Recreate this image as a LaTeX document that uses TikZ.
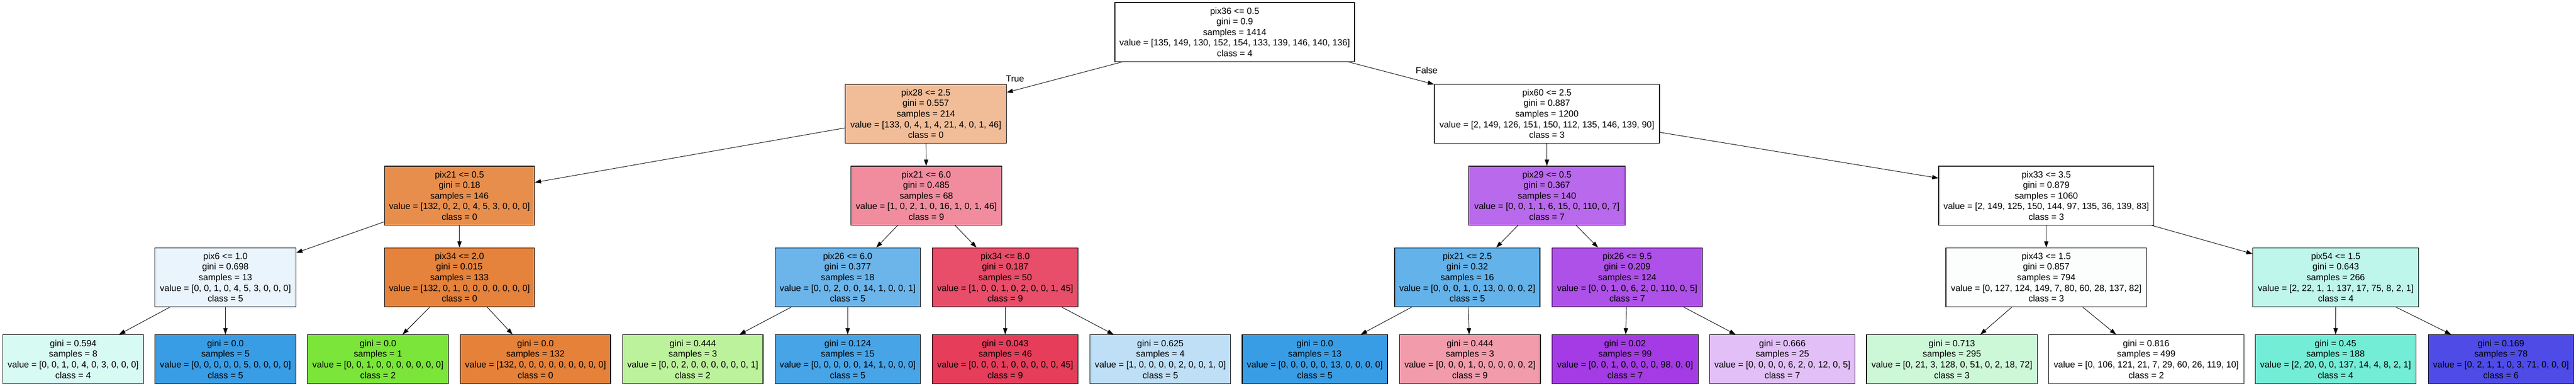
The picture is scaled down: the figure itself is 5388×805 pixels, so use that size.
\documentclass[tikz,border=0pt]{standalone}
\usepackage{fontspec}
\setmainfont{Liberation Sans}
\usetikzlibrary{arrows.meta}

\definecolor{kOrange}{RGB}{229,129,57}
\definecolor{kGreen}{RGB}{123,229,57}
\definecolor{kMint}{RGB}{57,229,94}
\definecolor{kTeal}{RGB}{57,229,197}
\definecolor{kBlue}{RGB}{57,157,229}
\definecolor{kIndigo}{RGB}{60,57,229}
\definecolor{kViolet}{RGB}{163,57,229}
\definecolor{kRed}{RGB}{229,57,88}

\begin{document}
\begin{tikzpicture}[x=1pt,y=-1pt,
    dtnode/.style={draw,line width=1.3pt,align=center,inner sep=0pt,minimum height=123pt,font=\fontsize{18.7}{22.2}\selectfont},
    dtleaf/.style={dtnode,minimum height=102pt},
    edgelbl/.style={font=\fontsize{18.7}{22.2}\selectfont,inner sep=0pt},
    dtedge/.style={-{Triangle[length=13pt,width=9pt]},line width=1pt}]
    \useasboundingbox (0,0) rectangle (5388,805);

    % root
    \node[dtnode,fill=white,minimum width=501pt] (R) at (2582.5,67) {pix36 <= 0.5\\gini = 0.9\\samples = 1414\\value = [135, 149, 130, 152, 154, 133, 139, 146, 140, 136]\\class = 4};

    % level 1
    \node[dtnode,fill=kOrange!52!white,minimum width=337pt] (A1) at (1936.5,237.5) {pix28 <= 2.5\\gini = 0.557\\samples = 214\\value = [133, 0, 4, 1, 4, 21, 4, 0, 1, 46]\\class = 0};
    \node[dtnode,fill=white,minimum width=471pt] (A2) at (3235.5,237.5) {pix60 <= 2.5\\gini = 0.887\\samples = 1200\\value = [2, 149, 126, 151, 150, 112, 135, 146, 139, 90]\\class = 3};

    % level 2
    \node[dtnode,fill=kOrange!90!white,minimum width=314pt] (B1) at (961,408.5) {pix21 <= 0.5\\gini = 0.18\\samples = 146\\value = [132, 0, 2, 0, 4, 5, 3, 0, 0, 0]\\class = 0};
    \node[dtnode,fill=kRed!58!white,minimum width=315pt] (B2) at (1937.5,408.5) {pix21 <= 6.0\\gini = 0.485\\samples = 68\\value = [1, 0, 2, 1, 0, 16, 1, 0, 1, 46]\\class = 9};
    \node[dtnode,fill=kViolet!76!white,minimum width=327pt] (B3) at (3235.5,408.5) {pix29 <= 0.5\\gini = 0.367\\samples = 140\\value = [0, 0, 1, 1, 6, 15, 0, 110, 0, 7]\\class = 7};
    \node[dtnode,fill=white,minimum width=450pt] (B4) at (4280,408.5) {pix33 <= 3.5\\gini = 0.879\\samples = 1060\\value = [2, 149, 125, 150, 144, 97, 135, 36, 139, 83]\\class = 3};

    % level 3
    \node[dtnode,fill=kBlue!11!white,minimum width=295pt] (C1) at (471.5,579) {pix6 <= 1.0\\gini = 0.698\\samples = 13\\value = [0, 0, 1, 0, 4, 5, 3, 0, 0, 0]\\class = 5};
    \node[dtnode,fill=kOrange!99!white,minimum width=314pt] (C2) at (961,579) {pix34 <= 2.0\\gini = 0.015\\samples = 133\\value = [132, 0, 1, 0, 0, 0, 0, 0, 0, 0]\\class = 0};
    \node[dtnode,fill=kBlue!75!white,minimum width=304pt] (C3) at (1773,579) {pix26 <= 6.0\\gini = 0.377\\samples = 18\\value = [0, 0, 2, 0, 0, 14, 1, 0, 0, 1]\\class = 5};
    \node[dtnode,fill=kRed!90!white,minimum width=305pt] (C4) at (2102.5,579) {pix34 <= 8.0\\gini = 0.187\\samples = 50\\value = [1, 0, 0, 1, 0, 2, 0, 0, 1, 45]\\class = 9};
    \node[dtnode,fill=kBlue!79!white,minimum width=304pt] (C5) at (3069,579) {pix21 <= 2.5\\gini = 0.32\\samples = 16\\value = [0, 0, 0, 1, 0, 13, 0, 0, 0, 2]\\class = 5};
    \node[dtnode,fill=kViolet!88!white,minimum width=315pt] (C6) at (3403.5,579) {pix26 <= 9.5\\gini = 0.209\\samples = 124\\value = [0, 0, 1, 0, 6, 2, 0, 110, 0, 5]\\class = 7};
    \node[dtnode,fill=kMint!2!white,minimum width=420pt] (C7) at (4280,579) {pix43 <= 1.5\\gini = 0.857\\samples = 794\\value = [0, 127, 124, 149, 7, 80, 60, 28, 137, 82]\\class = 3};
    \node[dtnode,fill=kTeal!33!white,minimum width=347pt] (C8) at (4885.5,579) {pix54 <= 1.5\\gini = 0.643\\samples = 266\\value = [2, 22, 1, 1, 137, 17, 75, 8, 2, 1]\\class = 4};

    % leaves
    \node[dtleaf,fill=kTeal!20!white,minimum width=294pt] (D1) at (153,750) {gini = 0.594\\samples = 8\\value = [0, 0, 1, 0, 4, 0, 3, 0, 0, 0]\\class = 4};
    \node[dtleaf,fill=kBlue,minimum width=295pt] (D2) at (471.5,750) {gini = 0.0\\samples = 5\\value = [0, 0, 0, 0, 0, 5, 0, 0, 0, 0]\\class = 5};
    \node[dtleaf,fill=kGreen,minimum width=295pt] (D3) at (790.5,750) {gini = 0.0\\samples = 1\\value = [0, 0, 1, 0, 0, 0, 0, 0, 0, 0]\\class = 2};
    \node[dtleaf,fill=kOrange,minimum width=314pt] (D4) at (1120,750) {gini = 0.0\\samples = 132\\value = [132, 0, 0, 0, 0, 0, 0, 0, 0, 0]\\class = 0};
    \node[dtleaf,fill=kGreen!50!white,minimum width=294pt] (D5) at (1449,750) {gini = 0.444\\samples = 3\\value = [0, 0, 2, 0, 0, 0, 0, 0, 0, 1]\\class = 2};
    \node[dtleaf,fill=kBlue!93!white,minimum width=304pt] (D6) at (1773,750) {gini = 0.124\\samples = 15\\value = [0, 0, 0, 0, 0, 14, 1, 0, 0, 0]\\class = 5};
    \node[dtleaf,fill=kRed!98!white,minimum width=305pt] (D7) at (2102.5,750) {gini = 0.043\\samples = 46\\value = [0, 0, 0, 1, 0, 0, 0, 0, 0, 45]\\class = 9};
    \node[dtleaf,fill=kBlue!33!white,minimum width=294pt] (D8) at (2427,750) {gini = 0.625\\samples = 4\\value = [1, 0, 0, 0, 0, 2, 0, 0, 1, 0]\\class = 5};
    \node[dtleaf,fill=kBlue,minimum width=304pt] (D9) at (2750,750) {gini = 0.0\\samples = 13\\value = [0, 0, 0, 0, 0, 13, 0, 0, 0, 0]\\class = 5};
    \node[dtleaf,fill=kRed!50!white,minimum width=295pt] (D10) at (3074.5,750) {gini = 0.444\\samples = 3\\value = [0, 0, 0, 1, 0, 0, 0, 0, 0, 2]\\class = 9};
    \node[dtleaf,fill=kViolet!99!white,minimum width=306pt] (D11) at (3399,750) {gini = 0.02\\samples = 99\\value = [0, 0, 1, 0, 0, 0, 0, 98, 0, 0]\\class = 7};
    \node[dtleaf,fill=kViolet!32!white,minimum width=304pt] (D12) at (3728,750) {gini = 0.666\\samples = 25\\value = [0, 0, 0, 0, 6, 2, 0, 12, 0, 5]\\class = 7};
    \node[dtleaf,fill=kMint!25!white,minimum width=357pt] (D13) at (4082.5,750) {gini = 0.713\\samples = 295\\value = [0, 21, 3, 128, 0, 51, 0, 2, 18, 72]\\class = 3};
    \node[dtleaf,fill=white,minimum width=408pt] (D14) at (4489,750) {gini = 0.816\\samples = 499\\value = [0, 106, 121, 21, 7, 29, 60, 26, 119, 10]\\class = 2};
    \node[dtleaf,fill=kTeal!70!white,minimum width=336pt] (D15) at (4885,750) {gini = 0.45\\samples = 188\\value = [2, 20, 0, 0, 137, 14, 4, 8, 2, 1]\\class = 4};
    \node[dtleaf,fill=kIndigo!91!white,minimum width=304pt] (D16) at (5231,750) {gini = 0.169\\samples = 78\\value = [0, 2, 1, 1, 0, 3, 71, 0, 0, 0]\\class = 6};

    % edges
    \draw[dtedge] (R) -- (A1);
    \draw[dtedge] (R) -- (A2);
    \node[edgelbl] (T) at (2123,164) {True};
    \node[edgelbl] (F) at (2984,147) {False};

    \draw[dtedge] (A1) -- (B1);
    \draw[dtedge] (A1) -- (B2);
    \draw[dtedge] (A2) -- (B3);
    \draw[dtedge] (A2) -- (B4);

    \draw[dtedge] (B1) -- (C1);
    \draw[dtedge] (B1) -- (C2);
    \draw[dtedge] (B2) -- (C3);
    \draw[dtedge] (B2) -- (C4);
    \draw[dtedge] (B3) -- (C5);
    \draw[dtedge] (B3) -- (C6);
    \draw[dtedge] (B4) -- (C7);
    \draw[dtedge] (B4) -- (C8);

    \draw[dtedge] (C1) -- (D1);
    \draw[dtedge] (C1) -- (D2);
    \draw[dtedge] (C2) -- (D3);
    \draw[dtedge] (C2) -- (D4);
    \draw[dtedge] (C3) -- (D5);
    \draw[dtedge] (C3) -- (D6);
    \draw[dtedge] (C4) -- (D7);
    \draw[dtedge] (C4) -- (D8);
    \draw[dtedge] (C5) -- (D9);
    \draw[dtedge] (C5) -- (D10);
    \draw[dtedge] (C6) -- (D11);
    \draw[dtedge] (C6) -- (D12);
    \draw[dtedge] (C7) -- (D13);
    \draw[dtedge] (C7) -- (D14);
    \draw[dtedge] (C8) -- (D15);
    \draw[dtedge] (C8) -- (D16);
\end{tikzpicture}
\end{document}
